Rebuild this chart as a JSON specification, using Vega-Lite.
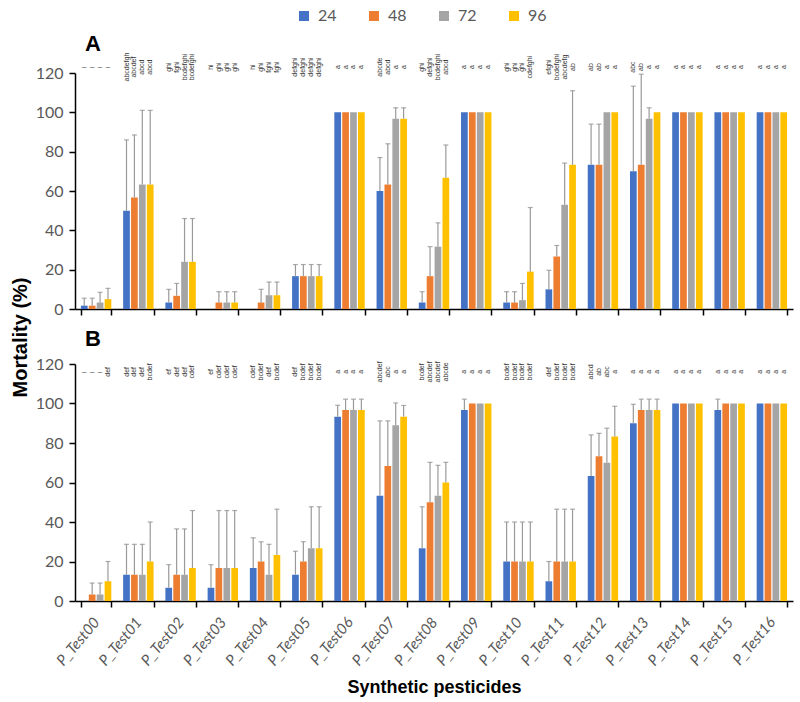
{
  "$schema": "https://vega.github.io/schema/vega-lite/v6.json",
  "background": "white",
  "padding": {"left": 10, "top": 8, "right": 5, "bottom": 5},
  "bounds": "flush",
  "spacing": 55,
  "config": {
    "view": {"stroke": null},
    "font": "Lato",
    "axis": {"labelFont": "Lato", "titleFont": "Liberation Sans"}
  },
  "datasets": {
    "bars": [
      {"p":"A","c":"P_Test00","t":"24","v":1.7,"e":5.5,"l":"–"},
      {"p":"A","c":"P_Test00","t":"48","v":1.7,"e":5.5,"l":"–"},
      {"p":"A","c":"P_Test00","t":"72","v":3.3,"e":8.5,"l":"–"},
      {"p":"A","c":"P_Test00","t":"96","v":5,"e":10.5,"l":"–"},
      {"p":"A","c":"P_Test01","t":"24","v":50,"e":86,"l":"abcdefgh"},
      {"p":"A","c":"P_Test01","t":"48","v":56.7,"e":88.5,"l":"abcdef"},
      {"p":"A","c":"P_Test01","t":"72","v":63.3,"e":101,"l":"abcd"},
      {"p":"A","c":"P_Test01","t":"96","v":63.3,"e":101,"l":"abcd"},
      {"p":"A","c":"P_Test02","t":"24","v":3.3,"e":10,"l":"ghi"},
      {"p":"A","c":"P_Test02","t":"48","v":6.7,"e":13,"l":"fghi"},
      {"p":"A","c":"P_Test02","t":"72","v":24,"e":46,"l":"bcdefghi"},
      {"p":"A","c":"P_Test02","t":"96","v":24,"e":46,"l":"bcdefghi"},
      {"p":"A","c":"P_Test03","t":"24","v":0,"e":null,"l":"hi"},
      {"p":"A","c":"P_Test03","t":"48","v":3.3,"e":8.8,"l":"ghi"},
      {"p":"A","c":"P_Test03","t":"72","v":3.3,"e":8.8,"l":"ghi"},
      {"p":"A","c":"P_Test03","t":"96","v":3.3,"e":8.8,"l":"ghi"},
      {"p":"A","c":"P_Test04","t":"24","v":0,"e":null,"l":"hi"},
      {"p":"A","c":"P_Test04","t":"48","v":3.3,"e":10,"l":"ghi"},
      {"p":"A","c":"P_Test04","t":"72","v":7,"e":13.7,"l":"fghi"},
      {"p":"A","c":"P_Test04","t":"96","v":7,"e":13.7,"l":"fghi"},
      {"p":"A","c":"P_Test05","t":"24","v":16.7,"e":22.6,"l":"defghi"},
      {"p":"A","c":"P_Test05","t":"48","v":16.7,"e":22.6,"l":"defghi"},
      {"p":"A","c":"P_Test05","t":"72","v":16.7,"e":22.6,"l":"defghi"},
      {"p":"A","c":"P_Test05","t":"96","v":16.7,"e":22.6,"l":"defghi"},
      {"p":"A","c":"P_Test06","t":"24","v":100,"e":null,"l":"a"},
      {"p":"A","c":"P_Test06","t":"48","v":100,"e":null,"l":"a"},
      {"p":"A","c":"P_Test06","t":"72","v":100,"e":null,"l":"a"},
      {"p":"A","c":"P_Test06","t":"96","v":100,"e":null,"l":"a"},
      {"p":"A","c":"P_Test07","t":"24","v":60,"e":77,"l":"abcde"},
      {"p":"A","c":"P_Test07","t":"48","v":63.3,"e":84,"l":"abcd"},
      {"p":"A","c":"P_Test07","t":"72","v":96.7,"e":102.3,"l":"a"},
      {"p":"A","c":"P_Test07","t":"96","v":96.7,"e":102.3,"l":"a"},
      {"p":"A","c":"P_Test08","t":"24","v":3.3,"e":8.8,"l":"ghi"},
      {"p":"A","c":"P_Test08","t":"48","v":16.7,"e":31.7,"l":"defghi"},
      {"p":"A","c":"P_Test08","t":"72","v":31.7,"e":43.8,"l":"bcdefghi"},
      {"p":"A","c":"P_Test08","t":"96","v":66.7,"e":83.4,"l":"abcd"},
      {"p":"A","c":"P_Test09","t":"24","v":100,"e":null,"l":"a"},
      {"p":"A","c":"P_Test09","t":"48","v":100,"e":null,"l":"a"},
      {"p":"A","c":"P_Test09","t":"72","v":100,"e":null,"l":"a"},
      {"p":"A","c":"P_Test09","t":"96","v":100,"e":null,"l":"a"},
      {"p":"A","c":"P_Test10","t":"24","v":3.3,"e":8.8,"l":"ghi"},
      {"p":"A","c":"P_Test10","t":"48","v":3.3,"e":8.8,"l":"ghi"},
      {"p":"A","c":"P_Test10","t":"72","v":4.5,"e":13,"l":"ghi"},
      {"p":"A","c":"P_Test10","t":"96","v":19,"e":51.6,"l":"cdefghi"},
      {"p":"A","c":"P_Test11","t":"24","v":10,"e":19.7,"l":"efghi"},
      {"p":"A","c":"P_Test11","t":"48","v":26.7,"e":32.3,"l":"bcdefghi"},
      {"p":"A","c":"P_Test11","t":"72","v":53,"e":74.2,"l":"abcdefg"},
      {"p":"A","c":"P_Test11","t":"96","v":73.3,"e":111,"l":"ab"},
      {"p":"A","c":"P_Test12","t":"24","v":73.3,"e":94,"l":"ab"},
      {"p":"A","c":"P_Test12","t":"48","v":73.3,"e":94,"l":"ab"},
      {"p":"A","c":"P_Test12","t":"72","v":100,"e":null,"l":"a"},
      {"p":"A","c":"P_Test12","t":"96","v":100,"e":null,"l":"a"},
      {"p":"A","c":"P_Test13","t":"24","v":70,"e":113.3,"l":"abc"},
      {"p":"A","c":"P_Test13","t":"48","v":73.3,"e":119.4,"l":"ab"},
      {"p":"A","c":"P_Test13","t":"72","v":96.7,"e":102.3,"l":"a"},
      {"p":"A","c":"P_Test13","t":"96","v":100,"e":null,"l":"a"},
      {"p":"A","c":"P_Test14","t":"24","v":100,"e":null,"l":"a"},
      {"p":"A","c":"P_Test14","t":"48","v":100,"e":null,"l":"a"},
      {"p":"A","c":"P_Test14","t":"72","v":100,"e":null,"l":"a"},
      {"p":"A","c":"P_Test14","t":"96","v":100,"e":null,"l":"a"},
      {"p":"A","c":"P_Test15","t":"24","v":100,"e":null,"l":"a"},
      {"p":"A","c":"P_Test15","t":"48","v":100,"e":null,"l":"a"},
      {"p":"A","c":"P_Test15","t":"72","v":100,"e":null,"l":"a"},
      {"p":"A","c":"P_Test15","t":"96","v":100,"e":null,"l":"a"},
      {"p":"A","c":"P_Test16","t":"24","v":100,"e":null,"l":"a"},
      {"p":"A","c":"P_Test16","t":"48","v":100,"e":null,"l":"a"},
      {"p":"A","c":"P_Test16","t":"72","v":100,"e":null,"l":"a"},
      {"p":"A","c":"P_Test16","t":"96","v":100,"e":null,"l":"a"},

      {"p":"B","c":"P_Test00","t":"24","v":0,"e":null,"l":"–"},
      {"p":"B","c":"P_Test00","t":"48","v":3.3,"e":9.1,"l":"–"},
      {"p":"B","c":"P_Test00","t":"72","v":3.3,"e":9.1,"l":"–"},
      {"p":"B","c":"P_Test00","t":"96","v":10,"e":20,"l":"def"},
      {"p":"B","c":"P_Test01","t":"24","v":13.3,"e":28.7,"l":"def"},
      {"p":"B","c":"P_Test01","t":"48","v":13.3,"e":28.7,"l":"def"},
      {"p":"B","c":"P_Test01","t":"72","v":13.3,"e":28.7,"l":"def"},
      {"p":"B","c":"P_Test01","t":"96","v":20,"e":40,"l":"bcdef"},
      {"p":"B","c":"P_Test02","t":"24","v":6.7,"e":18.4,"l":"ef"},
      {"p":"B","c":"P_Test02","t":"48","v":13.3,"e":36.5,"l":"def"},
      {"p":"B","c":"P_Test02","t":"72","v":13.3,"e":36.5,"l":"def"},
      {"p":"B","c":"P_Test02","t":"96","v":16.7,"e":45.8,"l":"cdef"},
      {"p":"B","c":"P_Test03","t":"24","v":6.7,"e":18.4,"l":"ef"},
      {"p":"B","c":"P_Test03","t":"48","v":16.7,"e":45.8,"l":"cdef"},
      {"p":"B","c":"P_Test03","t":"72","v":16.7,"e":45.8,"l":"cdef"},
      {"p":"B","c":"P_Test03","t":"96","v":16.7,"e":45.8,"l":"cdef"},
      {"p":"B","c":"P_Test04","t":"24","v":16.7,"e":32,"l":"cdef"},
      {"p":"B","c":"P_Test04","t":"48","v":20,"e":30,"l":"bcdef"},
      {"p":"B","c":"P_Test04","t":"72","v":13.3,"e":28.7,"l":"def"},
      {"p":"B","c":"P_Test04","t":"96","v":23.3,"e":46.5,"l":"bcdef"},
      {"p":"B","c":"P_Test05","t":"24","v":13.3,"e":25.2,"l":"def"},
      {"p":"B","c":"P_Test05","t":"48","v":20,"e":30,"l":"bcdef"},
      {"p":"B","c":"P_Test05","t":"72","v":26.7,"e":47.7,"l":"bcdef"},
      {"p":"B","c":"P_Test05","t":"96","v":26.7,"e":47.7,"l":"bcdef"},
      {"p":"B","c":"P_Test06","t":"24","v":93.3,"e":99.1,"l":"a"},
      {"p":"B","c":"P_Test06","t":"48","v":96.7,"e":102.2,"l":"a"},
      {"p":"B","c":"P_Test06","t":"72","v":96.7,"e":102.2,"l":"a"},
      {"p":"B","c":"P_Test06","t":"96","v":96.7,"e":102.2,"l":"a"},
      {"p":"B","c":"P_Test07","t":"24","v":53.3,"e":91.2,"l":"abcdef"},
      {"p":"B","c":"P_Test07","t":"48","v":68.3,"e":91.2,"l":"abc"},
      {"p":"B","c":"P_Test07","t":"72","v":89,"e":100.3,"l":"a"},
      {"p":"B","c":"P_Test07","t":"96","v":93.3,"e":99,"l":"a"},
      {"p":"B","c":"P_Test08","t":"24","v":26.7,"e":47.7,"l":"bcdef"},
      {"p":"B","c":"P_Test08","t":"48","v":50,"e":70.2,"l":"abcdef"},
      {"p":"B","c":"P_Test08","t":"72","v":53.3,"e":68.7,"l":"abcdef"},
      {"p":"B","c":"P_Test08","t":"96","v":60,"e":70.2,"l":"abcde"},
      {"p":"B","c":"P_Test09","t":"24","v":96.7,"e":102.2,"l":"a"},
      {"p":"B","c":"P_Test09","t":"48","v":100,"e":null,"l":"a"},
      {"p":"B","c":"P_Test09","t":"72","v":100,"e":null,"l":"a"},
      {"p":"B","c":"P_Test09","t":"96","v":100,"e":null,"l":"a"},
      {"p":"B","c":"P_Test10","t":"24","v":20,"e":40,"l":"bcdef"},
      {"p":"B","c":"P_Test10","t":"48","v":20,"e":40,"l":"bcdef"},
      {"p":"B","c":"P_Test10","t":"72","v":20,"e":40,"l":"bcdef"},
      {"p":"B","c":"P_Test10","t":"96","v":20,"e":40,"l":"bcdef"},
      {"p":"B","c":"P_Test11","t":"24","v":10,"e":20,"l":"def"},
      {"p":"B","c":"P_Test11","t":"48","v":20,"e":46.5,"l":"bcdef"},
      {"p":"B","c":"P_Test11","t":"72","v":20,"e":46.5,"l":"bcdef"},
      {"p":"B","c":"P_Test11","t":"96","v":20,"e":46.5,"l":"bcdef"},
      {"p":"B","c":"P_Test12","t":"24","v":63.3,"e":84.1,"l":"abcd"},
      {"p":"B","c":"P_Test12","t":"48","v":73.3,"e":84.9,"l":"ab"},
      {"p":"B","c":"P_Test12","t":"72","v":70,"e":87.5,"l":"abc"},
      {"p":"B","c":"P_Test12","t":"96","v":83.3,"e":98.6,"l":"a"},
      {"p":"B","c":"P_Test13","t":"24","v":90,"e":99.6,"l":"a"},
      {"p":"B","c":"P_Test13","t":"48","v":96.7,"e":102.2,"l":"a"},
      {"p":"B","c":"P_Test13","t":"72","v":96.7,"e":102.2,"l":"a"},
      {"p":"B","c":"P_Test13","t":"96","v":96.7,"e":102.2,"l":"a"},
      {"p":"B","c":"P_Test14","t":"24","v":100,"e":null,"l":"a"},
      {"p":"B","c":"P_Test14","t":"48","v":100,"e":null,"l":"a"},
      {"p":"B","c":"P_Test14","t":"72","v":100,"e":null,"l":"a"},
      {"p":"B","c":"P_Test14","t":"96","v":100,"e":null,"l":"a"},
      {"p":"B","c":"P_Test15","t":"24","v":96.7,"e":102.2,"l":"a"},
      {"p":"B","c":"P_Test15","t":"48","v":100,"e":null,"l":"a"},
      {"p":"B","c":"P_Test15","t":"72","v":100,"e":null,"l":"a"},
      {"p":"B","c":"P_Test15","t":"96","v":100,"e":null,"l":"a"},
      {"p":"B","c":"P_Test16","t":"24","v":100,"e":null,"l":"a"},
      {"p":"B","c":"P_Test16","t":"48","v":100,"e":null,"l":"a"},
      {"p":"B","c":"P_Test16","t":"72","v":100,"e":null,"l":"a"},
      {"p":"B","c":"P_Test16","t":"96","v":100,"e":null,"l":"a"}
    ]
  },
  "vconcat": [
    {
      "width": 718,
      "height": 236,
      "title": {"text": "A", "anchor": "start", "frame": "group", "dx": 10, "offset": -3, "fontSize": 22, "font": "Liberation Sans", "fontWeight": "bold", "color": "black"},
      "data": {"name": "bars"},
      "transform": [{"filter": "datum.p == 'A'"}],
      "encoding": {
        "x": {"field": "c", "type": "nominal", "sort": null,
          "scale": {"paddingInner": 0.28, "paddingOuter": 0.14},
          "axis": {"title": null, "labels": false, "tickBand": "extent", "domainColor": "black", "domainWidth": 1.5, "tickColor": "black", "tickWidth": 1.5, "tickSize": 6}},
        "xOffset": {"field": "t", "type": "nominal", "sort": null, "scale": {"paddingInner": 0.15}},
        "y": {"field": "v", "type": "quantitative",
          "scale": {"domain": [0, 120], "nice": false},
          "axis": {"values": [0, 20, 40, 60, 80, 100, 120], "tickCount": 7, "labelOverlap": false, "grid": false, "domainColor": "black", "domainWidth": 1.5, "tickColor": "black", "tickWidth": 1.5, "tickSize": 6,
            "labelColor": "#595959", "labelFontSize": 16, "labelPadding": 6,
            "title": "Mortality (%)", "titleFontSize": 20, "titleFontWeight": "bold", "titleColor": "black", "titleY": 264, "titleAlign": "center", "titlePadding": 5}}
      },
      "layer": [
        {
          "mark": {"type": "bar"},
          "encoding": {
            "color": {"field": "t", "type": "nominal", "sort": null,
              "scale": {"domain": ["24", "48", "72", "96"], "range": ["#4472C4", "#ED7D31", "#A5A5A5", "#FFC000"]},
              "legend": {"title": null, "orient": "none", "direction": "horizontal", "legendX": 221, "legendY": -65, "symbolType": "square", "symbolSize": 100, "symbolStrokeWidth": 0, "labelFontSize": 16, "labelColor": "#595959", "columnPadding": 29, "labelOffset": 6}}
          }
        },
        {
          "transform": [{"filter": "datum.e != null"}],
          "mark": {"type": "rule", "color": "#9a9a9a", "strokeWidth": 1.2},
          "encoding": {"y2": {"field": "e"}}
        },
        {
          "transform": [{"filter": "datum.e != null"}],
          "mark": {"type": "tick", "color": "#8a8a8a", "thickness": 1.2, "size": 5},
          "encoding": {"y": {"field": "e", "type": "quantitative"}}
        },
        {
          "transform": [{"filter": "datum.l != '–'"}],
          "mark": {"type": "text", "fontSize": 7, "font": "Liberation Sans", "color": "#333333", "align": "center", "baseline": "middle", "angle": 270, "dx": 0, "dy": 0},
          "encoding": {
            "y": {"datum": 123, "type": "quantitative"},
            "text": {"field": "l"}
          }
        },
        {
          "transform": [{"filter": "datum.l == '–'"}],
          "mark": {"type": "text", "fontSize": 8, "font": "Liberation Sans", "color": "#333333", "align": "center", "baseline": "middle", "angle": 0},
          "encoding": {
            "y": {"datum": 123, "type": "quantitative"},
            "text": {"field": "l"}
          }
        }
      ]
    },
    {
      "width": 718,
      "height": 237,
      "title": {"text": "B", "anchor": "start", "frame": "group", "dx": 10, "offset": 5, "fontSize": 22, "font": "Liberation Sans", "fontWeight": "bold", "color": "black"},
      "data": {"name": "bars"},
      "transform": [{"filter": "datum.p == 'B'"}],
      "encoding": {
        "x": {"field": "c", "type": "nominal", "sort": null,
          "scale": {"paddingInner": 0.28, "paddingOuter": 0.14},
          "axis": {"tickBand": "extent", "domainColor": "black", "domainWidth": 1.5, "tickColor": "black", "tickWidth": 1.5, "tickSize": 6,
            "labelAngle": -50, "labelFontStyle": "italic", "labelColor": "#595959", "labelFontSize": 15, "labelPadding": 12,
            "title": "Synthetic pesticides", "titleFontSize": 18, "titleFontWeight": "bold", "titleColor": "black", "titlePadding": 10}},
        "xOffset": {"field": "t", "type": "nominal", "sort": null, "scale": {"paddingInner": 0.15}},
        "y": {"field": "v", "type": "quantitative",
          "scale": {"domain": [0, 120], "nice": false},
          "axis": {"values": [0, 20, 40, 60, 80, 100, 120], "tickCount": 7, "labelOverlap": false, "grid": false, "domainColor": "black", "domainWidth": 1.5, "tickColor": "black", "tickWidth": 1.5, "tickSize": 6,
            "labelColor": "#595959", "labelFontSize": 16, "labelPadding": 6, "title": null}}
      },
      "layer": [
        {
          "mark": {"type": "bar"},
          "encoding": {
            "color": {"field": "t", "type": "nominal", "sort": null,
              "scale": {"domain": ["24", "48", "72", "96"], "range": ["#4472C4", "#ED7D31", "#A5A5A5", "#FFC000"]}}
          }
        },
        {
          "transform": [{"filter": "datum.e != null"}],
          "mark": {"type": "rule", "color": "#9a9a9a", "strokeWidth": 1.2},
          "encoding": {"y2": {"field": "e"}}
        },
        {
          "transform": [{"filter": "datum.e != null"}],
          "mark": {"type": "tick", "color": "#8a8a8a", "thickness": 1.2, "size": 5},
          "encoding": {"y": {"field": "e", "type": "quantitative"}}
        },
        {
          "transform": [{"filter": "datum.l != '–'"}],
          "mark": {"type": "text", "fontSize": 7, "font": "Liberation Sans", "color": "#333333", "align": "center", "baseline": "middle", "angle": 270, "dx": 0, "dy": 0},
          "encoding": {
            "y": {"datum": 116, "type": "quantitative"},
            "text": {"field": "l"}
          }
        },
        {
          "transform": [{"filter": "datum.l == '–'"}],
          "mark": {"type": "text", "fontSize": 8, "font": "Liberation Sans", "color": "#333333", "align": "center", "baseline": "middle", "angle": 0},
          "encoding": {
            "y": {"datum": 116, "type": "quantitative"},
            "text": {"field": "l"}
          }
        }
      ]
    }
  ]
}
